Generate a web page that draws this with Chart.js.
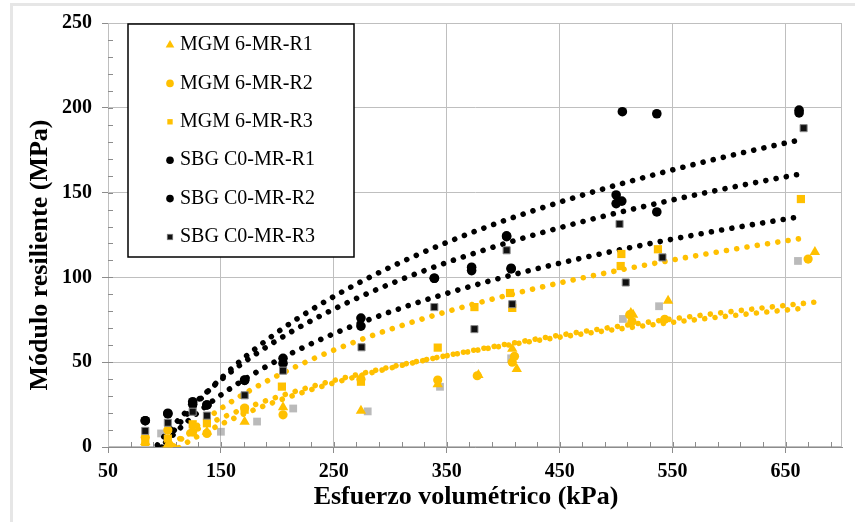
<!DOCTYPE html>
<html lang="es">
<head>
<meta charset="utf-8">
<title>Módulo resiliente vs esfuerzo volumétrico</title>
<script src="https://cdn.jsdelivr.net/npm/chart.js@4.4.1/dist/chart.umd.min.js"></script>
<style>
    html, body { margin: 0; padding: 0; background: #fff; }
    #wrap { position: relative; width: 855px; height: 522px; overflow: hidden; }
    #wrap canvas { position: absolute; left: 0; top: 0; }
    #frame { position: absolute; left: 10px; top: 3px; right: -5px; bottom: -5px;
             border-top: 3px solid #e6e6e6; border-left: 3px solid #e6e6e6; pointer-events: none; }
</style>
</head>
<body>
<div id="wrap">
    <canvas id="myChart" width="855" height="522"></canvas>
    <div id="frame"></div>
</div>
<script>
(function () {
    'use strict';

    // axes
    var xTicks = [50, 150, 250, 350, 450, 550, 650];
    var yTicks = [0, 50, 100, 150, 200, 250];
    var xTitle = 'Esfuerzo volumétrico (kPa)';
    var yTitle = 'Módulo resiliente (MPa)';

    // MGM 6 series (kPa, MPa)
    var mgmR1X = [83, 103, 125, 137.6, 171, 205, 274, 342, 408, 378, 412, 513, 515, 546, 676];
    var mgmR1Y = [3, 1.5, 8, 9, 14.9, 23.4, 21.4, 37, 58, 42.5, 46, 79, 78, 86.3, 115];
    var mgmR2X = [83, 103, 125, 137.6, 171, 205, 274, 342, 408, 377, 410, 512, 514, 543, 670];
    var mgmR2Y = [5.7, 10, 9, 8, 23, 19, 40, 39.5, 50, 42, 53.5, 78, 74, 75.3, 110.8];
    var mgmR3X = [83, 103, 125, 137.6, 171, 204, 274, 342, 406, 374.5, 408, 504.6, 504, 537, 663.6];
    var mgmR3Y = [3, 5, 13.4, 14, 22, 35.6, 38.5, 58.6, 90.8, 82.5, 82, 113.8, 106.7, 116.6, 146.2];

    // SBG C0 series
    var sbgR1X = [83, 103, 125, 137.6, 171, 205, 274, 339, 403, 372, 407, 500, 505.5, 536, 662];
    var sbgR1Y = [15.5, 19.5, 25.2, 24.8, 39.3, 52.3, 76, 99.5, 124.5, 106, 105.4, 148.6, 197.7, 196.5, 198.6];
    var sbgR2X = [83, 103, 125, 137.6, 171, 205, 274, 339, 403, 372, 407, 500, 505, 536, 662];
    var sbgR2Y = [15.5, 19.9, 26.7, 24.8, 39.5, 49.3, 71.3, 99.5, 124, 104, 105, 143.5, 145, 138.6, 197];
    var sbgR3X = [83, 103, 125, 137.6, 171, 205, 274.5, 339, 403, 374.5, 408, 503, 508.5, 541, 666];
    var sbgR3Y = [9.5, 14.3, 20.8, 18.5, 30.5, 45, 58.8, 82.5, 116, 69.5, 84.2, 131.5, 97, 111.8, 188];

    // faint grey markers visible in the figure (no legend entry)
    var ghostX = [97, 150, 182, 214, 280, 344, 407, 506, 538, 661];
    var ghostY = [8, 9, 15, 22.7, 21, 35.5, 52.3, 75.5, 83, 109.7];

    var ORANGE = '#FFC000';
    var BLACK = '#000000';
    var FONT = '"Liberation Serif", "Times New Roman", serif';

    Chart.defaults.font.family = FONT;

    function points(xs, ys) {
        return xs.map(function (x, i) {
            return {x: x, y: ys[i]};
        });
    }

    // logarithmic least squares fit, y = a ln(x) + b
    function logFit(xs, ys) {
        var n = xs.length, sx = 0, sy = 0, sxx = 0, sxy = 0;
        xs.forEach(function (x, i) {
            var lx = Math.log(x);
            sx += lx;
            sy += ys[i];
            sxx += lx * lx;
            sxy += lx * ys[i];
        });
        var a = (n * sxy - sx * sy) / (n * sxx - sx * sx);
        return {a: a, b: (sy - a * sx) / n};
    }

    function trend(xs, ys, color) {
        var fit = logFit(xs, ys);
        var lo = Math.min.apply(null, xs);
        var hi = Math.max.apply(null, xs);
        var data = [];
        for (var i = 0; i <= 150; i++) {
            var x = lo + (hi - lo) * i / 150;
            data.push({x: x, y: fit.a * Math.log(x) + fit.b});
        }
        return {
            type: 'line',
            data: data,
            showLine: true,
            borderColor: color,
            borderWidth: 5.6,
            borderDash: [0.01, 10.4],
            borderCapStyle: 'round',
            pointRadius: 0,
            fill: false,
            clip: 0,
            order: 5
        };
    }

    function series(label, xs, ys, style, radius, fill, border, order) {
        return {
            label: label,
            inLegend: true,
            data: points(xs, ys),
            pointStyle: style,
            pointRadius: radius,
            backgroundColor: fill,
            borderColor: border,
            borderWidth: border === fill ? 0 : 1,
            clip: false,
            order: order
        };
    }

    var datasets = [
        series('MGM 6-MR-R1', mgmR1X, mgmR1Y, 'triangle', 6, ORANGE, ORANGE, 3),
        series('MGM 6-MR-R2', mgmR2X, mgmR2Y, 'circle', 4.6, ORANGE, ORANGE, 3),
        series('MGM 6-MR-R3', mgmR3X, mgmR3Y, 'rect', 5.8, ORANGE, ORANGE, 3),
        series('SBG C0-MR-R1', sbgR1X, sbgR1Y, 'circle', 4.8, BLACK, BLACK, 2),
        series('SBG C0-MR-R2', sbgR2X, sbgR2Y, 'circle', 4.8, BLACK, BLACK, 2),
        series('SBG C0-MR-R3', sbgR3X, sbgR3Y, 'rect', 5, '#111111', '#8a8a8a', 1),
        trend(mgmR1X, mgmR1Y, ORANGE),
        trend(mgmR2X, mgmR2Y, ORANGE),
        trend(mgmR3X, mgmR3Y, ORANGE),
        trend(sbgR1X, sbgR1Y, BLACK),
        trend(sbgR2X, sbgR2Y, BLACK),
        trend(sbgR3X, sbgR3Y, BLACK),
        {
            data: points(ghostX, ghostY),
            pointStyle: 'rect',
            pointRadius: 5.5,
            backgroundColor: 'rgba(130,130,130,0.55)',
            borderWidth: 0,
            clip: false,
            order: 6
        }
    ];

    function drawMarker(ctx, style, x, y, r) {
        ctx.beginPath();
        if (style === 'triangle') {
            ctx.moveTo(x, y - r);
            ctx.lineTo(x + r * 0.866, y + r / 2);
            ctx.lineTo(x - r * 0.866, y + r / 2);
            ctx.closePath();
        } else if (style === 'rect') {
            var s = r * Math.SQRT1_2;
            ctx.rect(x - s, y - s, 2 * s, 2 * s);
        } else {
            ctx.arc(x, y, r, 0, Math.PI * 2);
        }
        ctx.fill();
    }

    // minor ticks + plot frame
    var minorTicks = {
        id: 'minorTicks',
        beforeDatasetsDraw: function (chart) {
            var ctx = chart.ctx, a = chart.chartArea;
            var x = chart.scales.x, y = chart.scales.y;
            var v, p;
            ctx.save();
            ctx.strokeStyle = '#bfbfbf';
            ctx.lineWidth = 1;
            ctx.strokeRect(a.left + 0.5, a.top + 0.5, a.right - a.left - 1, a.bottom - a.top - 1);
            ctx.strokeStyle = '#8c8c8c';
            ctx.beginPath();
            for (v = x.min + 20; v < x.max; v += 20) {
                p = Math.round(x.getPixelForValue(v)) + 0.5;
                ctx.moveTo(p, a.bottom);
                ctx.lineTo(p, a.bottom - 5);
            }
            for (v = y.min + 10; v < y.max; v += 10) {
                p = Math.round(y.getPixelForValue(v)) + 0.5;
                ctx.moveTo(a.left, p);
                ctx.lineTo(a.left + 5, p);
            }
            ctx.stroke();
            ctx.restore();
        }
    };

    var legendBox = {
        id: 'legendBox',
        afterDatasetsDraw: function (chart) {
            var ctx = chart.ctx, a = chart.chartArea;
            var left = a.left + 20, top = a.top + 1, w = 226, h = 233, row = 38.4;
            ctx.save();
            ctx.fillStyle = '#fff';
            ctx.fillRect(left, top, w, h);
            ctx.strokeStyle = '#000';
            ctx.lineWidth = 1.5;
            ctx.strokeRect(left, top, w, h);
            ctx.font = '20px ' + FONT;
            ctx.textBaseline = 'middle';
            chart.data.datasets.filter(function (ds) {
                return ds.inLegend;
            }).forEach(function (ds, i) {
                var cy = top + 21 + i * row;
                if (ds.borderWidth) {
                    ctx.fillStyle = ds.borderColor;
                    drawMarker(ctx, ds.pointStyle, left + 42, cy, 4.4);
                    ctx.fillStyle = ds.backgroundColor;
                    drawMarker(ctx, ds.pointStyle, left + 42, cy, 3.2);
                } else {
                    ctx.fillStyle = ds.backgroundColor;
                    drawMarker(ctx, ds.pointStyle, left + 42, cy, ds.pointStyle === 'triangle' ? 5 : 3.8);
                }
                ctx.fillStyle = '#000';
                ctx.fillText(ds.label, left + 52, cy);
            });
            ctx.restore();
        }
    };

    var axisTitles = {
        id: 'axisTitles',
        afterDraw: function (chart) {
            var ctx = chart.ctx, a = chart.chartArea;
            ctx.save();
            ctx.fillStyle = '#000';
            ctx.textAlign = 'center';
            ctx.textBaseline = 'middle';
            ctx.font = 'bold 26px ' + FONT;
            ctx.fillText(xTitle, (a.left + a.right) / 2 - 9, 497);
            ctx.translate(40, (a.top + a.bottom) / 2 + 20);
            ctx.rotate(-Math.PI / 2);
            ctx.fillText(yTitle, 0, 0);
            ctx.restore();
        }
    };

    var tickFont = {family: FONT, size: 20, weight: 'bold'};

    new Chart(document.getElementById('myChart'), {
        type: 'scatter',
        data: {datasets: datasets},
        plugins: [minorTicks, legendBox, axisTitles],
        options: {
            responsive: false,
            animation: false,
            events: [],
            layout: {padding: {left: 11, right: 13, top: 23, bottom: 0}},
            plugins: {
                legend: {display: false},
                tooltip: {enabled: false}
            },
            scales: {
                x: {
                    type: 'linear',
                    min: 50,
                    max: 700,
                    afterBuildTicks: function (scale) {
                        scale.ticks = xTicks.map(function (v) { return {value: v}; });
                    },
                    afterFit: function (scale) { scale.height = 75; },
                    ticks: {font: tickFont, color: '#000', padding: 7, maxRotation: 0},
                    grid: {color: '#bfbfbf', tickColor: '#8c8c8c', tickLength: 6},
                    border: {color: '#8c8c8c'}
                },
                y: {
                    min: 0,
                    max: 250,
                    afterBuildTicks: function (scale) {
                        scale.ticks = yTicks.map(function (v) { return {value: v}; });
                    },
                    afterFit: function (scale) { scale.width = 97; },
                    ticks: {font: tickFont, color: '#000', padding: 10},
                    grid: {color: '#bfbfbf', tickColor: '#8c8c8c', tickLength: 6},
                    border: {color: '#8c8c8c'}
                }
            }
        }
    });
})();
</script>
</body>
</html>
